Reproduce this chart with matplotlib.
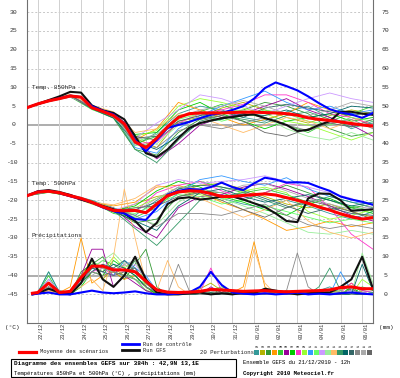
import numpy as np
import matplotlib
matplotlib.use("Agg")
import matplotlib.pyplot as plt
from matplotlib.lines import Line2D
from matplotlib.patches import Rectangle

# ---------------- data ----------------
hours_main = list(range(0, 385, 12))            # 33 points
hours_pert = list(range(0, 385, 24))            # 17 points
hours_prec = [6] + list(range(12, 385, 12))     # 33 points
day_labels = ["22/12", "23/12", "24/12", "25/12", "26/12", "27/12", "28/12", "29/12",
              "30/12", "31/12", "01/01", "02/01", "03/01", "04/01", "05/01", "06/01"]

mean_850 = [4.6, 5.6, 6.4, 7.0, 7.7, 7.4, 4.6, 3.6, 2.5, 0.3, -4.5, -6.0, -3.5, -0.5, 2.0, 3.0,
            3.2, 3.2, 3.2, 3.3, 3.4, 3.4, 3.3, 3.2, 3.0, 2.6, 1.9, 1.5, 1.2, 0.8, 0.4, 0.0, -0.3]
ctrl_850 = [4.6, 5.6, 6.4, 7.1, 7.8, 7.4, 5.0, 3.8, 2.8, 0.5, -4.0, -7.0, -4.0, -0.8, 0.0, 0.8,
            1.8, 2.7, 3.2, 4.0, 5.0, 7.0, 9.8, 11.3, 10.3, 9.2, 7.6, 5.8, 4.2, 3.3, 2.8, 1.9, 3.2]
gfs_850 = [4.6, 5.6, 6.6, 7.6, 8.8, 8.6, 5.2, 3.9, 3.2, 1.5, -3.0, -7.5, -8.5, -6.5, -3.5, -0.8,
           0.5, 1.2, 1.8, 2.1, 2.6, 2.8, 1.8, 1.0, 0.0, -1.6, -1.3, 0.0, 1.0, 3.5, 3.5, 3.0, 2.7]

mean_500 = [-18.8, -17.8, -17.6, -18.0, -18.8, -19.5, -20.5, -21.7, -22.7, -22.8, -22.7, -23.3,
            -21.0, -18.8, -17.8, -17.5, -17.6, -18.2, -19.0, -19.0, -18.7, -18.5, -18.3, -18.6,
            -19.3, -20.0, -20.8, -21.8, -22.6, -23.6, -24.4, -25.0, -24.6]
ctrl_500 = [-18.8, -17.7, -17.5, -18.1, -18.9, -19.6, -20.6, -21.9, -22.9, -23.5, -25.0, -25.2,
            -22.0, -18.5, -17.5, -17.0, -17.2, -16.5, -15.3, -16.5, -17.3, -15.5, -14.0, -14.5,
            -15.3, -15.2, -15.4, -16.5, -17.5, -19.0, -19.8, -20.4, -21.2]
gfs_500 = [-18.8, -17.6, -17.3, -17.8, -18.6, -19.8, -20.6, -21.5, -22.4, -23.5, -25.5, -28.5,
           -26.0, -21.0, -19.5, -19.2, -19.8, -19.5, -19.0, -19.0, -19.8, -20.8, -21.8, -23.5,
           -25.5, -25.8, -19.5, -18.2, -18.3, -20.0, -22.8, -22.6, -22.4]

mean_prec = [0.3, 0.5, 3.0, 0.5, 0.8, 4.5, 7.5, 7.5, 6.5, 6.5, 6.0, 3.5, 1.2, 0.6, 0.5, 0.6, 0.8,
             1.3, 1.2, 1.0, 0.8, 0.9, 1.0, 0.8, 0.7, 0.8, 0.9, 1.0, 1.2, 1.8, 2.0, 1.5, 1.5]
ctrl_prec = [0, 0.2, 0.5, 0, 0, 0.5, 1, 0.5, 0.3, 0.5, 0.8, 0.3, 0, 0, 0.2, 0.5, 2, 6, 2.5, 0.5,
             0.2, 0, 0.3, 0, 0.2, 0.5, 0, 0.2, 0, 0.3, 0.5, 0.2, 0]
gfs_prec = [0, 0.3, 1.5, 0.5, 0, 3, 9.5, 4, 2, 5, 10, 4, 0.5, 0, 0, 0.3, 0.5, 0, 0.3, 0, 0.5, 0.3,
            1.5, 1, 0.5, 0, 0.3, 0.5, 0.5, 2, 4, 10, 1.5]

pert_850 = [
    [4.6, 6.3, 7.5, 4.8, 2.0, -5.5, -2.0, 3.0, 5.0, 4.0, 2.0, 1.0, 3.5, 5.0, 2.0, -1.0, 1.0],
    [4.6, 6.5, 7.9, 4.5, 2.8, -3.5, -6.0, 1.0, 2.0, 4.5, 6.0, 4.0, 2.0, 0.5, 2.5, 4.0, 3.0],
    [4.6, 6.4, 7.6, 4.2, 1.8, -6.5, -8.0, -2.0, 1.5, 3.0, 4.0, 6.0, 5.0, 3.0, -1.0, -3.0, -2.0],
    [4.6, 6.2, 7.7, 5.0, 3.0, -4.0, -1.0, 6.0, 4.0, 2.0, 0.0, 1.5, 3.0, 6.0, 4.0, 2.0, 0.0],
    [4.6, 6.6, 7.8, 4.4, 2.2, -5.0, -3.0, 2.5, 3.5, 5.5, 3.0, 2.0, 0.0, -2.0, 1.0, 3.0, 5.0],
    [4.6, 6.4, 7.4, 4.9, 2.6, -4.0, -9.0, -5.0, 0.0, 2.0, 3.0, 5.0, 7.0, 4.0, 2.0, 0.0, -3.0],
    [4.6, 6.3, 7.8, 4.7, 3.2, -2.5, -2.0, 4.0, 6.0, 3.0, 1.0, -1.0, 1.0, 2.0, 3.0, 1.0, 2.0],
    [4.6, 6.5, 7.6, 4.3, 2.4, -5.0, -4.5, 0.5, 3.0, 4.0, 5.5, 8.0, 8.0, 6.0, 3.0, 2.0, 0.0],
    [4.6, 6.7, 8.0, 4.6, 2.0, -3.0, -1.5, 5.0, 7.0, 6.0, 4.5, 3.0, 1.0, 0.0, -2.0, -4.0, -2.0],
    [4.6, 6.4, 7.7, 4.5, 2.7, -6.0, -7.5, -1.0, 2.5, 5.0, 7.0, 9.0, 6.0, 4.0, 5.0, 3.0, 4.0],
    [4.6, 6.2, 7.5, 4.1, 2.1, -4.5, -2.5, 1.5, 3.0, 1.0, 2.5, 4.0, 3.0, 1.0, 0.0, 2.0, 1.0],
    [4.6, 6.5, 7.9, 4.8, 3.0, -3.5, 0.5, 4.0, 8.0, 7.0, 5.0, 3.0, 5.0, 7.0, 8.5, 7.0, 6.0],
    [4.6, 6.3, 7.6, 4.4, 2.3, -5.5, -5.0, 0.0, 2.0, 3.5, 4.0, 2.0, -1.0, -3.0, -4.0, -2.0, -4.0],
    [4.6, 6.6, 8.2, 5.2, 3.5, -2.0, -1.0, 3.0, 2.0, 0.0, -2.0, 0.0, 2.0, 1.0, -1.0, 1.0, 3.0],
    [4.6, 6.4, 7.5, 4.6, 2.5, -6.5, -10.0, -4.0, 1.0, 2.5, 1.5, 0.5, 2.5, 3.5, 1.5, -0.5, 0.5],
    [4.6, 6.3, 7.7, 4.3, 1.9, -4.5, -6.5, -3.0, 0.5, 1.5, 3.0, 2.5, 4.0, 2.0, 3.0, 5.0, 4.5],
    [4.6, 6.5, 7.8, 4.7, 2.6, -3.5, -3.0, 1.0, 2.5, 3.5, 2.0, 4.5, 5.5, 4.5, 3.5, 2.5, 3.5],
    [4.6, 6.4, 7.6, 4.5, 2.8, -5.0, -6.0, -1.5, 0.0, -1.0, 0.5, 2.0, 0.0, -1.5, 0.5, 1.5, -1.0],
    [4.6, 6.2, 7.4, 4.9, 2.2, -4.0, -2.5, 2.0, 4.0, 5.0, 6.5, 5.0, 3.0, 2.5, 4.0, 6.0, 5.0],
    [4.6, 6.6, 7.9, 4.4, 2.9, -3.0, -4.0, 0.5, 1.5, 2.5, 1.0, -2.0, -3.0, -1.0, 0.5, -0.5, 1.5],
]

pert_500 = [
    [-18.8, -17.5, -18.5, -20.0, -22.0, -24.0, -20.0, -16.5, -17.0, -19.5, -21.0, -22.0, -20.0, -21.5, -23.5, -25.0, -23.0],
    [-18.8, -17.8, -19.0, -21.0, -23.0, -21.0, -19.0, -18.0, -16.0, -15.5, -17.0, -19.0, -21.0, -22.0, -21.0, -23.0, -24.5],
    [-18.8, -17.4, -18.7, -20.3, -22.5, -26.0, -25.0, -19.0, -17.5, -18.0, -20.0, -18.0, -16.0, -18.0, -20.0, -22.0, -21.0],
    [-18.8, -17.7, -18.9, -20.6, -21.5, -20.5, -16.5, -16.0, -18.0, -20.5, -22.5, -25.0, -28.0, -27.0, -25.5, -27.0, -26.0],
    [-18.8, -17.6, -18.6, -20.4, -23.5, -24.5, -22.0, -17.0, -15.0, -16.5, -18.0, -17.0, -18.5, -20.5, -22.5, -21.5, -23.0],
    [-18.8, -17.5, -19.1, -20.8, -22.0, -27.0, -30.0, -22.0, -19.0, -18.5, -16.5, -15.5, -17.0, -19.0, -21.5, -24.0, -25.5],
    [-18.8, -17.9, -18.8, -20.2, -22.8, -21.5, -17.5, -15.0, -16.5, -19.0, -20.5, -22.5, -24.0, -21.0, -19.5, -22.0, -23.5],
    [-18.8, -17.6, -18.4, -20.5, -22.5, -23.0, -18.0, -16.0, -15.0, -17.5, -19.5, -18.0, -15.5, -16.5, -22.0, -29.0, -33.0],
    [-18.8, -17.3, -18.9, -20.7, -23.2, -22.0, -19.5, -17.5, -18.5, -20.0, -17.5, -16.5, -18.0, -23.0, -25.0, -24.0, -22.5],
    [-18.8, -17.7, -18.7, -20.5, -22.4, -25.0, -23.0, -18.0, -14.5, -13.5, -15.0, -16.0, -14.0, -17.0, -19.0, -20.5, -21.0],
    [-18.8, -17.6, -18.9, -20.3, -22.9, -23.5, -21.0, -18.5, -19.0, -21.0, -20.0, -21.5, -23.0, -24.5, -26.0, -25.0, -26.0],
    [-18.8, -17.5, -18.6, -20.6, -22.6, -21.0, -16.0, -14.5, -15.5, -15.0, -14.5, -13.5, -15.0, -16.5, -18.0, -19.5, -22.5],
    [-18.8, -17.8, -18.7, -20.4, -22.1, -24.5, -26.5, -20.5, -17.5, -19.5, -21.5, -23.5, -26.0, -28.5, -29.0, -28.0, -29.0],
    [-18.8, -17.4, -18.8, -20.5, -21.2, -19.5, -16.0, -17.5, -19.5, -22.0, -24.5, -22.5, -20.0, -25.5, -28.5, -30.0, -28.5],
    [-18.8, -17.6, -18.5, -20.4, -22.8, -27.5, -32.0, -26.0, -20.0, -19.0, -18.0, -20.0, -22.0, -20.5, -19.0, -20.5, -22.0],
    [-18.8, -17.7, -18.9, -20.7, -23.0, -25.5, -28.0, -21.5, -18.0, -17.0, -19.0, -20.5, -19.5, -18.5, -20.0, -21.5, -20.5],
    [-18.8, -17.5, -18.7, -20.5, -22.4, -22.5, -20.5, -17.0, -16.0, -16.5, -17.5, -19.5, -21.5, -23.5, -22.0, -23.5, -24.0],
    [-18.8, -17.8, -18.8, -20.6, -22.6, -24.0, -27.0, -23.5, -23.5, -24.0, -22.5, -21.0, -24.0, -26.5, -27.5, -26.5, -27.5],
    [-18.8, -17.6, -18.6, -20.3, -22.3, -23.0, -19.5, -16.5, -17.0, -18.0, -16.0, -15.5, -17.5, -19.5, -21.0, -22.5, -21.5],
    [-18.8, -17.5, -18.8, -20.6, -22.7, -22.0, -21.5, -19.0, -18.0, -20.0, -22.5, -24.5, -22.0, -20.0, -21.5, -23.0, -25.0],
]

pert_prec = [
    [0, 0.5, 4, 1, 0.5, 3, 6, 8, 5, 9, 7, 3, 0.5, 0, 0, 0.5, 1, 0.5, 0, 0, 0.5, 0, 0, 1, 0.5, 0, 0, 1, 2, 0.5, 0, 1, 0.5],
    [0, 0.3, 2, 0, 1, 5, 9, 4, 7, 5, 10, 2, 0, 0.5, 0, 0, 1.5, 3, 1, 0, 0, 0.5, 1, 0, 0, 0.5, 0, 0, 0.5, 1, 3, 0.5, 0],
    [0, 0.5, 3, 0.5, 0, 6, 8, 10, 6, 4, 8, 12, 2, 0, 0, 0.5, 0, 0, 1.5, 0.5, 0, 0, 0.5, 0, 1, 0, 0.5, 0, 0, 2, 1, 0, 0.5],
    [0, 0.3, 1, 0.5, 2, 15, 3, 5, 6, 4, 5, 2, 0, 0, 0.5, 0, 0.5, 0, 0, 0.5, 2, 14, 2, 0, 0, 0.5, 0, 1, 0, 0, 0.5, 0, 0],
    [0, 0.5, 5, 0, 0.5, 3, 7, 9, 8, 6, 4, 1, 0.5, 0, 0, 0, 0.5, 1, 2, 1, 0, 0, 0, 0.5, 0, 0, 1, 0, 0, 0.5, 0, 2, 1],
    [0, 0.3, 2, 0, 0.5, 5, 12, 12, 2, 5, 3, 1, 0, 0.5, 0, 0.5, 0, 2, 0.5, 0, 0, 0, 0.5, 0, 0, 0, 0.5, 0, 1, 0, 0, 0.5, 0],
    [0, 0.5, 3, 1, 0, 2, 6, 5, 9, 7, 5, 2, 0, 0, 0, 0, 0.5, 0, 0, 1, 0, 0.5, 0, 0, 0, 1, 0, 0, 0.5, 0, 2, 0, 0],
    [0, 0.5, 2, 0.5, 0, 4, 6, 7, 5, 8, 6, 4, 1, 0, 0.5, 0, 0.5, 7, 1, 0, 0, 0, 0, 0.5, 0, 0, 0, 1, 0, 0.5, 3, 1, 0.5],
    [0, 0.3, 3, 0, 1, 5, 8, 6, 10, 7, 9, 3, 0.5, 0, 0, 0, 0, 1, 0, 0.5, 0, 0, 1, 0, 0, 0, 0, 0.5, 0, 1, 0, 4, 2],
    [0, 0.5, 6, 0.5, 0, 4, 7, 6, 5, 9, 7, 5, 1, 0, 0, 0.5, 1, 0, 0, 0, 0.5, 0, 0, 0, 0.5, 0, 1, 0, 0, 6, 1, 0, 0.5],
    [0, 0.3, 2, 0, 0.5, 3, 9, 7, 6, 5, 4, 3, 0.5, 0, 0, 0, 0, 0.5, 0, 0, 0, 0.5, 0, 0, 1, 0, 0, 0, 0.5, 0, 0.5, 0, 0],
    [0, 0.5, 4, 1, 0, 4, 6, 8, 7, 6, 8, 4, 1, 0, 0, 0, 0.5, 1, 0, 0, 0, 0, 0.5, 0, 0, 0, 0, 0.5, 0, 0, 1, 0.5, 0],
    [0, 0.5, 3, 0.5, 0.5, 5, 7, 9, 11, 8, 6, 3, 1, 0, 0.5, 0, 0, 0, 0.5, 0, 0, 0, 0, 0.5, 0, 0, 0.5, 0, 1, 0, 0, 11, 3],
    [0, 0.3, 1, 0, 0.5, 2, 4, 1, 10, 28, 15, 3, 1, 9, 2, 0, 0, 0.5, 0, 0, 0, 12, 3, 0, 0, 0, 0, 0, 0.5, 0, 0, 0, 0],
    [0, 0.5, 6, 0.5, 0, 3, 8, 7, 6, 5, 9, 4, 0.5, 0, 0, 0, 0.5, 0, 0, 0, 0, 0, 1, 0, 0, 0, 0, 2, 7, 1, 0, 0, 0.5],
    [0, 0.5, 3, 0, 0.5, 4, 7, 6, 8, 7, 5, 2, 0.5, 0, 0, 0, 0, 0.5, 0, 1, 0, 0, 0, 0.5, 0, 0, 0, 0.5, 0, 0, 0, 8, 1],
    [0, 0.3, 2, 0.5, 0, 3, 6, 8, 7, 9, 6, 3, 0.5, 0, 0.5, 0, 0, 0, 0, 0.5, 0, 0, 0, 0, 0, 0.5, 0, 0, 0, 0.5, 0, 0, 0],
    [0, 0.5, 3, 0, 0.5, 4, 6, 5, 6, 5, 4, 2, 0.5, 0, 8, 1, 0, 0, 0.5, 0, 0, 0, 0, 0, 1, 11, 2, 0, 0, 0, 0.5, 0, 0],
    [0, 0.3, 2, 0, 0, 3, 5, 7, 6, 8, 9, 4, 1, 0, 0, 0.5, 0, 1, 0, 0, 0.5, 0, 0, 0, 0, 0, 0.5, 0, 0, 1, 0, 0.5, 0],
    [0, 0.5, 3, 0.5, 0.5, 4, 7, 6, 5, 6, 7, 3, 0.5, 0, 0, 0, 0.5, 0, 1, 0, 0, 0.5, 0, 1, 0, 0, 0, 0.5, 0, 0, 1.5, 0, 0],
]

pert_colors = ["#339999", "#b3b300", "#339933", "#ff9900", "#33cc33", "#990099", "#00cc00",
               "#ff33cc", "#99ff33", "#3399ff", "#66ff66", "#cc99ff", "#99ee99", "#ffbb66",
               "#339966", "#006666", "#336666", "#888888", "#aaaaaa", "#666666"]
pert_names = ["%02d" % (i + 1) for i in range(20)]

PREC_OFFSET = 45  # right axis (mm) = left axis (degC) + 45

# ---------------- figure ----------------
W, H = 400, 378
fig = plt.figure(figsize=(W / 100, H / 100), dpi=100)
fig.patch.set_facecolor("white")
X0, X1, YT, YB = 27, 373, 0, 323
ax = fig.add_axes([X0 / W, 1 - YB / H, (X1 - X0) / W, (YB - YT) / H])
ax.set_xlim(0, 384)
ax.set_ylim(-52.6, 33.2)
ax.set_facecolor("white")

FONT = "Liberation Mono"

# grid
for v in range(-45, 31, 5):
    if v in (0, -40):
        ax.axhline(v, color="#a0a0a0", lw=1.2, zorder=1)
    else:
        ax.axhline(v, color="#c8c8c8", lw=0.7, ls=(0, (2, 2)), zorder=1)
for i in range(len(day_labels)):
    ax.axvline(12 + 24 * i, color="#d0d0d0", lw=0.7, zorder=1)

ax.spines["top"].set_visible(False)
for s in ("left", "right", "bottom"):
    ax.spines[s].set_color("#707070")
    ax.spines[s].set_linewidth(0.8)
ax.set_xticks([])
ax.set_yticks([])

# perturbations
for i in range(20):
    c = pert_colors[i]
    ax.plot(hours_pert, pert_850[i], color=c, lw=0.6, zorder=2)
    ax.plot(hours_pert, pert_500[i], color=c, lw=0.6, zorder=2)
    ax.plot(hours_prec, np.array(pert_prec[i]) - PREC_OFFSET, color=c, lw=0.6, zorder=2)

# GFS, control, mean
ax.plot(hours_main, gfs_850, color="#111111", lw=1.5, zorder=3)
ax.plot(hours_main, gfs_500, color="#111111", lw=1.5, zorder=3)
ax.plot(hours_prec, np.array(gfs_prec) - PREC_OFFSET, color="#111111", lw=1.5, zorder=3)
ax.plot(hours_main, ctrl_850, color="#0000ff", lw=1.5, zorder=4)
ax.plot(hours_main, ctrl_500, color="#0000ff", lw=1.5, zorder=4)
ax.plot(hours_prec, np.array(ctrl_prec) - PREC_OFFSET, color="#0000ff", lw=1.5, zorder=4)
ax.plot(hours_main, mean_850, color="#ff0000", lw=2.2, zorder=5)
ax.plot(hours_main, mean_500, color="#ff0000", lw=2.2, zorder=5)
ax.plot(hours_prec, np.array(mean_prec) - PREC_OFFSET, color="#ff0000", lw=2.2, zorder=5)

# tick labels
ytr = ax.get_yaxis_transform()
for v in range(-45, 31, 5):
    ax.text(-0.040, v, str(v), transform=ytr, ha="center", va="center",
            fontsize=4.6, family=FONT, color="#333333")
    ax.text(1.037, v, str(v + PREC_OFFSET), transform=ytr, ha="center", va="center",
            fontsize=4.6, family=FONT, color="#333333")
xtr = ax.get_xaxis_transform()
for i, lab in enumerate(day_labels):
    ax.text(12 + 24 * i + 4.0, 0.0, lab, transform=xtr, rotation=90, ha="center",
            va="top", fontsize=3.9, family=FONT, color="#333333")

# labels inside plot
def px(x, y):
    return x / W, 1 - y / H

fig.text(*px(32, 88), "Temp. 850hPa", fontsize=4.4, family=FONT, va="center", color="#222222")
fig.text(*px(32, 183), "Temp. 500hPa", fontsize=4.4, family=FONT, va="center", color="#222222")
fig.text(*px(32, 235), "Précipitations", fontsize=4.4, family=FONT, va="center", color="#222222")
fig.text(*px(12, 328), "(°C)", fontsize=4.4, family=FONT, va="center", ha="center", color="#222222")
fig.text(*px(386, 328), "(mm)", fontsize=4.4, family=FONT, va="center", ha="center", color="#222222")

# legend
def fline(x0, x1, y, color, lw):
    fig.add_artist(Line2D([x0 / W, x1 / W], [1 - y / H, 1 - y / H], color=color, lw=lw,
                          transform=fig.transFigure))

fline(19, 36, 352, "#ff0000", 2.3)
fig.text(*px(40, 352), "Moyenne des scénarios", fontsize=4.0, family=FONT, va="center", color="#222222")
fline(122, 139, 344, "#0000ff", 2.0)
fig.text(*px(143, 344.5), "Run de contrôle", fontsize=3.9, family=FONT, va="center", color="#222222")
fline(122, 139, 350, "#111111", 2.0)
fig.text(*px(143, 350.5), "Run GFS", fontsize=3.9, family=FONT, va="center", color="#222222")
fig.text(*px(200, 352), "20 Perturbations", fontsize=4.1, family=FONT, va="center", color="#222222")
for i, (c, n) in enumerate(zip(pert_colors, pert_names)):
    bx = 254 + 5.95 * i
    fig.add_artist(Rectangle((bx / W, 1 - 355 / H), 5.2 / W, 5 / H, facecolor=c,
                             edgecolor="none", transform=fig.transFigure))
    fig.text((bx + 2.6) / W, 1 - 346.5 / H, n, fontsize=2.6, family=FONT, ha="center",
             va="center", color="#333333")

fig.add_artist(Rectangle((11 / W, 1 - 377 / H), 225 / W, 18 / H, facecolor="none",
                         edgecolor="black", lw=0.8, transform=fig.transFigure))
fig.text(*px(14, 364), "Diagramme des ensembles GEFS sur 384h : 42,9N 13,1E", fontsize=4.4,
         family=FONT, weight="bold", va="center", color="black")
fig.text(*px(14, 373), "Températures 850hPa et 500hPa (°C) , précipitations (mm)", fontsize=4.0,
         family=FONT, va="center", color="black")
fig.text(*px(243, 363), "Ensemble GEFS du 21/12/2010 - 12h", fontsize=4.0, family=FONT,
         va="center", color="black")
fig.text(*px(243, 373), "Copyright 2010 Meteociel.fr", fontsize=4.1, family=FONT,
         weight="bold", va="center", color="black")

fig.savefig("out.png", dpi=100, facecolor="white")
